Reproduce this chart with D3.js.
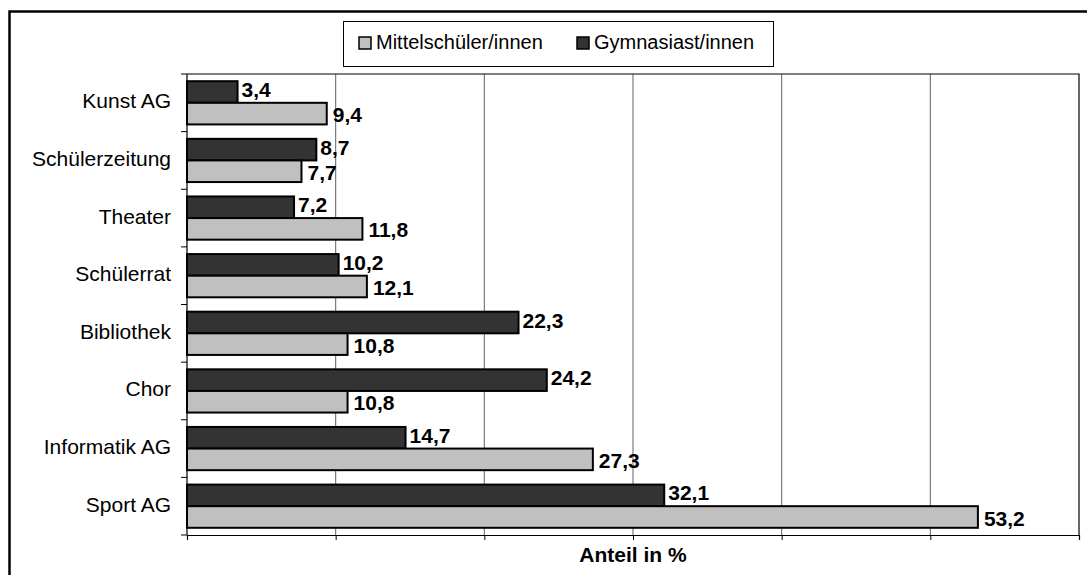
<!DOCTYPE html>
<html>
<head>
<meta charset="utf-8">
<script src="https://cdn.jsdelivr.net/npm/d3@7.9.0/dist/d3.min.js"></script>
<style>
  body { margin: 0; background: #fff; }
  svg { display: block; font-family: "Liberation Sans", Arial, sans-serif; }
</style>
</head>
<body>
<svg id="chart" width="1087" height="575"></svg>
<script>
const categories = ['Kunst AG', 'Schülerzeitung', 'Theater', 'Schülerrat', 'Bibliothek', 'Chor', 'Informatik AG', 'Sport AG'];
const gymnasiast = [3.4, 8.7, 7.2, 10.2, 22.3, 24.2, 14.7, 32.1];
const mittelschueler = [9.4, 7.7, 11.8, 12.1, 10.8, 10.8, 27.3, 53.2];
const seriesNames = ['Gymnasiast/innen', 'Mittelschüler/innen'];
const legendOrder = ['Mittelschüler/innen', 'Gymnasiast/innen'];
const xTicks = [0, 10, 20, 30, 40, 50, 60];

const colors = { 'Gymnasiast/innen': '#333333', 'Mittelschüler/innen': '#c0c0c0' };
const values = { 'Gymnasiast/innen': gymnasiast, 'Mittelschüler/innen': mittelschueler };

const svg = d3.select('#chart');
const plot = { left: 187, right: 1079, top: 74, bottom: 535 };

// outer frame
svg.append('rect')
  .attr('x', 9.5).attr('y', 11.5)
  .attr('width', 1200).attr('height', 700)
  .attr('fill', 'none').attr('stroke', '#000').attr('stroke-width', 2.5);

const x = d3.scaleLinear().domain([0, 60]).range([plot.left, plot.right]);
const y = d3.scaleBand().domain(categories).range([plot.top, plot.bottom]).paddingInner(0.25).paddingOuter(0.125);
const ySub = d3.scaleBand().domain(seriesNames).range([0, y.bandwidth()]);
const yEdges = d3.scaleBand().domain(categories).range([plot.top, plot.bottom]);

// gridlines
svg.append('g')
  .selectAll('line')
  .data(xTicks.slice(1, -1))
  .join('line')
  .attr('x1', (d) => x(d)).attr('x2', (d) => x(d))
  .attr('y1', plot.top).attr('y2', plot.bottom)
  .attr('stroke', '#6e6e6e').attr('stroke-width', 1.1);

// plot frame (top and right)
svg.append('path')
  .attr('d', `M${plot.left},${plot.top}H${plot.right}V${plot.bottom}`)
  .attr('fill', 'none').attr('stroke', '#000').attr('stroke-width', 1.2);

// bottom axis
const xAxis = svg.append('g')
  .attr('transform', `translate(0,${plot.bottom})`)
  .call(d3.axisBottom(x).tickValues(xTicks).tickSize(5).tickFormat(''));
xAxis.select('.domain').attr('stroke', '#000').attr('stroke-width', 1.2);
xAxis.selectAll('.tick line').attr('stroke', '#000');

// left axis with ticks at category boundaries
const leftAxis = svg.append('g');
leftAxis.append('line')
  .attr('x1', plot.left).attr('x2', plot.left)
  .attr('y1', plot.top).attr('y2', plot.bottom)
  .attr('stroke', '#000').attr('stroke-width', 1.2);
leftAxis.selectAll('.edge')
  .data(categories.concat(['end']))
  .join('line')
  .attr('class', 'edge')
  .attr('x1', plot.left - 6).attr('x2', plot.left)
  .attr('y1', (d, i) => (i < categories.length ? yEdges(d) : plot.bottom))
  .attr('y2', (d, i) => (i < categories.length ? yEdges(d) : plot.bottom))
  .attr('stroke', '#000');

leftAxis.selectAll('text')
  .data(categories)
  .join('text')
  .attr('x', plot.left - 16)
  .attr('y', (d) => yEdges(d) + yEdges.bandwidth() / 2)
  .attr('text-anchor', 'end')
  .attr('dominant-baseline', 'middle')
  .attr('font-size', 21)
  .text((d) => d);

// bars
const rows = [];
categories.forEach((c, i) => {
  seriesNames.forEach((s) => rows.push({ cat: c, series: s, value: values[s][i] }));
});

svg.append('g')
  .selectAll('rect')
  .data(rows)
  .join('rect')
  .attr('x', x(0))
  .attr('y', (d) => y(d.cat) + ySub(d.series))
  .attr('width', (d) => x(d.value) - x(0))
  .attr('height', ySub.bandwidth())
  .attr('fill', (d) => colors[d.series])
  .attr('stroke', '#000')
  .attr('stroke-width', 2);

svg.append('g')
  .selectAll('text')
  .data(rows)
  .join('text')
  .attr('x', (d) => x(d.value) + (d.series === 'Gymnasiast/innen' ? 4 : 6))
  .attr('y', (d) => y(d.cat) + ySub(d.series) + ySub.bandwidth() / 2 + (d.series === 'Gymnasiast/innen' ? -0.5 : 3))
  .attr('dominant-baseline', 'middle')
  .attr('font-size', 21)
  .attr('font-weight', 'bold')
  .text((d) => d3.format('.1f')(d.value).replace('.', ','));

// axis title
svg.append('text')
  .attr('x', (plot.left + plot.right) / 2)
  .attr('y', 562)
  .attr('text-anchor', 'middle')
  .attr('font-size', 21)
  .attr('font-weight', 'bold')
  .text('Anteil in %');

// legend
const legend = svg.append('g');
legend.append('rect')
  .attr('x', 343.5).attr('y', 21.5)
  .attr('width', 430).attr('height', 45)
  .attr('fill', '#fff').attr('stroke', '#000').attr('stroke-width', 1);

const legendX = [359, 577];
legendOrder.forEach((s, i) => {
  legend.append('rect')
    .attr('x', legendX[i]).attr('y', 37)
    .attr('width', 12).attr('height', 12)
    .attr('fill', colors[s]).attr('stroke', '#000').attr('stroke-width', 1.5);
  legend.append('text')
    .attr('x', legendX[i] + 17).attr('y', 44)
    .attr('dominant-baseline', 'middle')
    .attr('font-size', 20)
    .text(s);
});
</script>
</body>
</html>
